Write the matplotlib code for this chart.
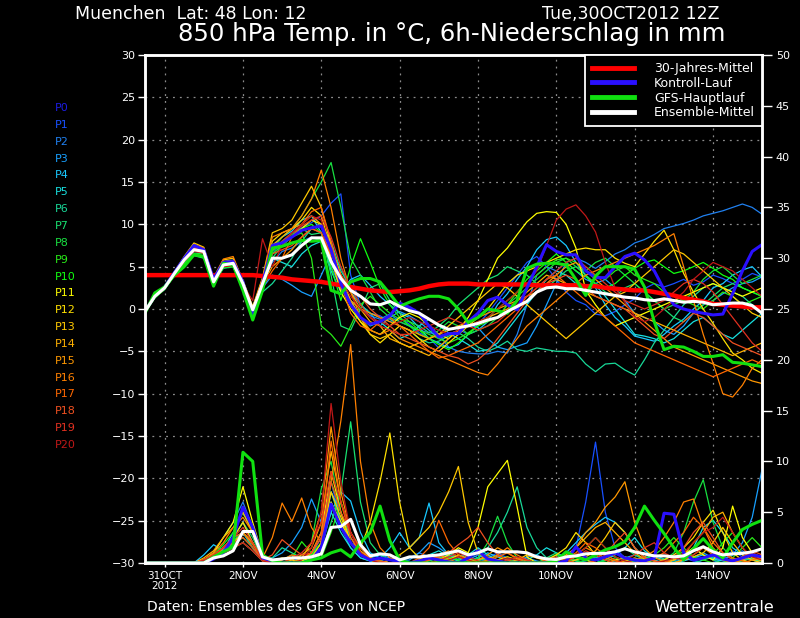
import matplotlib
matplotlib.use('Agg')
import matplotlib.pyplot as plt
from matplotlib.lines import Line2D

# forecast hours from Tue 30 OCT 2012 12Z, 6-hourly
hours = list(range(0, 379, 6))

x_ticks = [12, 60, 108, 156, 204, 252, 300, 348]
x_labels = ['31OCT\n2012', '2NOV', '4NOV', '6NOV', '8NOV', '10NOV', '12NOV', '14NOV']

# 850 hPa temperature (deg C)
t_clim = [4.0, 4.0, 4.0, 4.0, 4.0, 4.0, 4.0, 4.0, 4.0, 4.0, 4.0, 4.0, 3.9,
          3.8, 3.7, 3.5, 3.4, 3.3, 3.2, 3.0, 2.8, 2.6, 2.4, 2.2, 2.1, 2.0, 2.1,
          2.2, 2.4, 2.7, 2.9, 3.0, 3.0, 3.0, 2.9, 2.9, 2.9, 2.9, 2.9, 2.9,
          2.8, 2.8, 2.8, 2.8, 2.8, 2.7, 2.7, 2.5, 2.4, 2.3, 2.2, 2.2,
          2.0, 1.8, 1.6, 1.3, 1.1, 0.9, 0.6, 0.5, 0.4, 0.3, 0.2, 0.2]
t_ctl = [-0.3, 1.6, 2.6, 4.3, 6.0, 7.5, 7.0, 3.5, 5.5, 5.6, 3.2, -0.8, 3.0,
         7.5, 7.8, 8.5, 9.3, 9.6, 9.8, 7.0, 3.0, 0.5, -1.0, -1.8, -1.5, -0.8, 0.7,
         0.2, -0.5, -2.0, -3.3, -2.9, -2.9, -1.5, -0.5, 1.0, 1.4, 0.5, -0.1, 2.5,
         5.0, 7.6, 6.8, 6.4, 6.4, 4.5, 3.7, 3.7, 5.0, 6.2, 6.6, 5.8,
         4.5, 2.3, 0.5, 0.0, -0.3, -0.5, -0.7, -0.6, 1.8, 4.5, 6.8, 7.6]
t_gfs = [-0.5, 1.9, 2.6, 4.0, 5.0, 6.4, 6.2, 2.7, 5.4, 5.2, 2.2, -1.3, 2.2,
         7.2, 7.4, 7.8, 8.1, 8.0, 8.1, 2.2, 1.8, 3.2, 3.6, 3.6, 3.2, 1.8, 0.3,
         0.8, 1.2, 1.5, 1.5, 1.2, 0.0, -1.6, -1.0, 0.0, -0.2, -0.5, 1.0, 4.8,
         5.3, 5.4, 5.4, 5.2, 3.5, 1.6, 3.9, 5.0, 5.0, 5.0, 4.7, 2.6,
         -1.5, -4.8, -4.4, -4.5, -5.0, -5.6, -5.6, -5.4, -6.3, -6.4, -6.6, -6.8]
t_mean = [-0.3, 1.5, 2.5, 4.2, 5.8, 7.0, 6.8, 3.2, 5.2, 5.4, 3.0, -0.1, 3.0,
          6.0, 6.0, 6.4, 7.5, 8.4, 8.4, 5.6, 3.6, 2.2, 1.5, 0.6, 0.5, 0.9, 0.3,
          -0.2, -0.5, -1.2, -1.9, -2.4, -2.2, -2.0, -1.7, -1.3, -1.0, -0.3, 0.3, 0.9,
          2.0, 2.5, 2.6, 2.4, 2.4, 2.2, 2.0, 1.8, 1.6, 1.4, 1.3, 1.1,
          1.0, 1.2, 1.0, 0.8, 0.9, 0.8, 0.5, 0.6, 0.7, 0.7, 0.4, -0.5]

t01 = [-0.4, 1.4, 2.6, 4.4, 6.0, 7.6, 7.2, 3.4, 5.6, 5.8, 3.2, -0.5, 2.8,
       6.5, 8.0, 9.0, 9.6, 10.2, 11.0, 12.5, 13.6, 4.0, 0.5, -0.5, -0.8, -1.5, -1.0,
       -1.8, -2.8, -3.4, -4.6, -3.5, -2.4, -3.0, -1.8, -0.5, 1.0, 2.5, 4.0, 5.5,
       6.2, 5.0, 3.5, 2.0, 1.0, 0.5, -0.6, -0.8, -0.3, 0.5, 1.2, 2.4,
       3.0, 2.6, 3.0, 3.5, 2.8, 3.2, 4.0, 3.6, 3.0, 3.5, 4.2, 3.8]
t02 = [-0.2, 1.6, 2.4, 4.0, 5.6, 7.2, 6.9, 3.0, 5.4, 5.5, 2.9, -0.3, 3.2,
       5.5, 6.8, 7.2, 8.0, 8.5, 8.0, 5.0, 2.5, 1.0, 0.0, -0.8, -1.2, -0.6, -1.5,
       -2.0, -2.5, -2.8, -3.0, -4.5, -5.0, -5.2, -5.3, -5.3, -5.0, -5.2, -3.0, 0.5,
       4.0, 5.0, 4.5, 5.5, 6.0, 5.5, 4.8, 5.6, 6.5, 7.0, 7.8, 8.2,
       8.8, 9.5, 9.8, 10.1, 10.5, 11.0, 11.3, 11.6, 12.0, 12.4, 12.0, 11.2]
t03 = [-0.3, 1.5, 2.5, 4.3, 5.9, 7.3, 7.0, 3.6, 5.3, 5.0, 2.6, -0.8, 2.5,
       4.0, 3.5, 2.8, 2.0, 1.5, 4.0, 6.5, 5.0, 2.0, 0.5, -0.5, -2.0, -1.0, -0.3,
       -0.8, -1.5, -2.5, -3.5, -3.0, -2.5, -1.8, -2.2, -3.5, -4.5, -4.8, -4.4, -4.0,
       -2.0, 0.5, 3.0, 5.5, 4.5, 3.5, 3.0, 3.5, 2.5, 1.0, -0.5, -1.0,
       -1.5, -2.5, -3.0, -2.0, -0.5, 0.5, 1.0, 1.8, 2.5, 3.0, 3.2, 3.8]
t04 = [-0.3, 1.4, 2.3, 4.0, 5.5, 6.8, 6.7, 3.0, 5.0, 5.2, 2.8, -0.4, 3.4,
       7.5, 8.5, 9.2, 10.5, 11.0, 9.0, 4.5, 2.0, 3.5, 4.0, 2.8, 1.5, 0.5, -0.5,
       -1.0, -2.2, -3.5, -4.0, -4.6, -4.2, -3.0, -2.5, -1.5, 0.5, 1.8, 3.5, 5.0,
       7.0, 8.2, 8.5, 7.5, 5.5, 4.0, 2.5, 0.5, -1.0, -2.0, -3.2, -3.5,
       -3.8, -3.0, -2.0, -1.2, 0.0, 1.0, 2.5, 3.0, 4.0, 4.6, 5.0, 3.8]
t05 = [-0.2, 1.6, 2.6, 4.2, 5.7, 6.9, 6.6, 3.4, 5.1, 5.3, 3.1, 0.2, 3.5,
       6.0, 5.5, 5.0, 6.5, 7.5, 8.0, 5.5, 3.0, 1.0, -1.0, -2.0, -1.5, -2.5, -3.5,
       -3.0, -2.0, -1.2, -2.0, -2.8, -3.5, -4.2, -5.0, -4.8, -4.0, -2.5, -1.0, 0.5,
       2.0, 3.5, 4.5, 4.0, 3.0, 2.0, 2.8, 1.5, 0.0, -1.5, -3.0, -3.2,
       -3.5, -4.0, -3.5, -2.5, -1.5, -1.0, -2.0, -3.0, -3.5, -2.5, -1.5, -0.5]
t06 = [-0.4, 1.3, 2.4, 4.1, 5.6, 6.5, 6.2, 3.0, 4.8, 5.0, 2.5, -0.9, 2.0,
       3.0, 4.5, 6.0, 8.0, 9.5, 10.0, 8.0, 4.5, 2.5, 0.5, -0.5, -1.0, -1.2, -2.0,
       -2.5, -3.5, -4.0, -3.8, -3.2, -2.8, -3.5, -4.5, -5.0, -4.5, -3.8, -4.8, -5.0,
       -4.6, -4.8, -5.0, -5.0, -5.2, -6.5, -7.4, -6.5, -6.4, -7.2, -7.8, -6.0,
       -4.0, -2.5, -1.0, 0.5, 1.5, 2.5, 3.0, 2.5, 2.0, 1.5, 0.5, -0.5]
t07 = [-0.3, 1.5, 2.4, 4.0, 5.4, 6.3, 6.0, 2.8, 4.9, 5.1, 2.7, -0.6, 2.5,
       6.0, 7.5, 8.5, 9.5, 8.8, 9.0, 4.0, -2.0, -2.5, 0.0, 2.5, 3.0, 1.0, -0.5,
       -1.5, -2.0, -2.8, -2.0, -1.0, 0.5, 1.5, 2.5, 3.5, 4.0, 5.0, 4.5, 4.0,
       3.0, 2.5, 3.5, 4.5, 5.0, 4.0, 3.0, 2.0, 1.5, 2.5, 3.0, 2.0,
       1.0, 0.0, -1.0, -1.5, -0.5, 0.5, 1.5, 2.5, 3.0, 2.5, 2.0, 1.5]
t08 = [-0.4, 1.4, 2.5, 4.1, 5.5, 6.6, 6.5, 3.1, 5.0, 5.3, 2.9, -0.2, 3.1,
       7.0, 8.5, 9.5, 11.0, 13.0, 15.0, 17.3, 12.0, 6.0, 4.0, 2.0, 0.0, -1.0, -1.5,
       -2.0, -3.0, -3.5, -2.5, -1.5, -2.0, -3.0, -2.5, -2.0, -1.0, 0.5, 1.5, 2.5,
       3.5, 4.5, 5.5, 6.0, 5.0, 4.5, 5.5, 6.0, 5.0, 4.0, 3.0, 2.0,
       1.0, 0.0, 0.5, 1.0, 2.0, 3.5, 4.5, 5.0, 4.0, 3.0, 3.5, 4.0]
t09 = [-0.3, 1.6, 2.7, 4.4, 6.0, 7.2, 6.9, 3.3, 5.3, 5.5, 3.1, 0.0, 3.3,
       6.5, 7.5, 8.5, 9.0, 6.0, -2.0, -3.0, -4.4, -2.0, 0.5, 1.5, 0.5, -0.5, -1.2,
       -1.5, -2.5, -3.0, -3.5, -4.0, -3.5, -2.8, -2.0, -1.5, -1.0, 0.5, 2.0, 3.0,
       4.0, 5.0, 5.8, 6.0, 5.5, 4.5, 4.0, 3.5, 4.5, 5.0, 4.0, 3.5,
       3.0, 2.0, 1.5, 1.0, 0.5, 0.0, 1.0, 2.0, 1.5, 0.5, 1.0, 1.5]
t10 = [-0.5, 1.3, 2.3, 3.9, 5.3, 6.4, 6.3, 2.9, 4.9, 5.0, 2.6, -0.7, 2.7,
       6.8, 8.0, 8.8, 9.5, 10.0, 9.0, 5.0, 1.0, 5.0, 8.3, 5.5, 2.5, 0.5, -1.0,
       -2.0, -2.5, -3.5, -4.2, -4.8, -4.0, -3.0, -2.0, -1.0, 0.0, 1.0, 2.0, 3.5,
       4.5, 5.5, 6.5, 5.5, 4.5, 3.8, 3.0, 2.5, 3.0, 4.0, 4.8, 5.5,
       5.8, 5.0, 4.2, 4.5, 5.0, 5.5, 4.8, 4.0, 3.5, 2.5, 2.0, 1.5]
t11 = [-0.2, 1.7, 2.7, 4.3, 6.1, 7.5, 7.1, 3.5, 5.6, 5.7, 3.3, 0.1, 3.4,
       7.0, 7.8, 8.5, 9.5, 10.5, 10.0, 6.0, 2.0, 0.0, -1.5, -2.5, -3.0, -2.0, -1.0,
       -0.5, -1.0, -2.0, -3.0, -3.5, -2.5, -1.0, 1.0, 3.5, 6.0, 7.2, 8.8, 10.3,
       11.3, 11.5, 11.4, 10.0, 7.2, 2.2, 0.5, -1.0, -2.0, -1.5, -1.0, -0.5,
       0.0, 0.5, 1.0, 1.5, 2.0, 2.5, 3.0, 2.5, 2.0, 1.5, 2.0, 2.5]
t12 = [-0.3, 1.5, 2.6, 4.3, 5.9, 7.4, 7.0, 3.4, 5.5, 5.6, 3.1, -0.3, 3.0,
       8.0, 9.0, 9.5, 10.5, 12.0, 11.0, 7.0, 3.0, 0.5, -1.5, -3.0, -4.0, -3.0, -2.0,
       -2.5, -3.5, -4.5, -5.0, -4.0, -3.0, -2.0, -1.0, 0.0, 1.5, 3.0, 4.0, 4.5,
       5.0, 5.5, 6.0, 6.5, 7.0, 7.2, 7.0, 7.0, 6.0, 5.4, 5.0, 6.5,
       8.0, 9.3, 7.0, 4.2, 2.0, 0.0, -1.7, -3.5, -5.2, -6.0, -7.0, -7.6]
t13 = [-0.2, 1.6, 2.6, 4.4, 6.2, 7.8, 7.3, 3.6, 5.8, 6.0, 3.4, 0.3, 3.7,
       9.0, 9.5, 10.5, 12.5, 14.5, 12.0, 7.5, 4.0, 1.0, -1.0, -3.0, -3.5, -3.0, -4.0,
       -4.5, -4.0, -3.5, -3.0, -2.0, -1.0, 0.0, 1.0, 2.0, 3.0, 2.5, 1.5, 0.5,
       -0.5, -1.5, -2.5, -3.5, -2.5, -1.5, -0.5, 0.5, 1.5, 2.0, 3.0, 4.0,
       5.0, 6.0, 7.0, 6.5, 5.5, 4.5, 3.5, 2.5, 1.5, 0.5, -0.5, -1.0]
t14 = [-0.3, 1.5, 2.5, 4.2, 5.8, 7.1, 6.9, 3.2, 5.3, 5.4, 3.0, -0.1, 3.1,
       7.5, 8.5, 9.5, 10.0, 11.0, 10.0, 7.0, 4.0, 2.0, 0.0, -1.5, -2.0, -3.5, -4.0,
       -4.5, -5.0, -5.5, -4.5, -3.5, -2.5, -2.0, -1.5, -1.0, -0.5, 0.0, 1.0, 2.0,
       3.0, 4.0, 3.5, 3.0, 2.5, 2.0, 1.5, 1.0, 0.5, 0.0, -0.5, -1.0,
       -1.5, -2.0, -2.5, -3.0, -3.5, -4.0, -4.5, -5.0, -5.5, -5.0, -4.5, -4.0]
t15 = [-0.4, 1.4, 2.5, 4.2, 5.8, 7.0, 6.7, 3.1, 5.2, 5.4, 3.0, -0.2, 2.9,
       5.0, 6.0, 7.0, 8.5, 9.5, 9.0, 6.0, 2.5, 1.0, 0.0, -0.5, -1.0, -1.5, -2.0,
       -2.5, -3.0, -3.5, -3.0, -2.5, -2.0, -1.5, -1.0, -0.5, 0.0, 0.5, 1.0, 1.5,
       2.0, 3.0, 4.0, 5.0, 5.5, 4.5, 3.5, 2.5, 1.5, 0.5, -0.5, -1.5,
       -2.5, -3.5, -4.5, -5.0, -5.5, -6.0, -6.5, -7.0, -7.5, -8.0, -8.5, -8.8]
t16 = [-0.2, 1.6, 2.6, 4.3, 6.0, 7.6, 7.2, 3.7, 5.9, 6.2, 3.3, 0.0, 3.6,
       8.5, 9.0, 9.5, 11.0, 13.0, 16.4, 12.0, 6.0, 2.0, -1.0, -2.5, -3.0, -2.5, -3.5,
       -4.0, -4.5, -5.0, -5.5, -6.0, -6.5, -7.0, -7.5, -7.8, -6.5, -5.0, -3.5, -2.0,
       -1.0, 0.0, 1.0, 2.0, 3.0, 4.0, 4.5, 5.0, 5.5, 6.0, 6.5, 7.0,
       7.5, 8.2, 8.9, 5.0, 1.0, -3.0, -6.4, -10.0, -10.4, -9.0, -7.0, -6.0]
t17 = [-0.3, 1.5, 2.4, 4.1, 5.7, 6.9, 6.6, 3.0, 5.1, 5.2, 2.8, -0.5, 2.6,
       4.5, 6.0, 8.5, 10.0, 11.5, 12.0, 8.0, 3.0, -0.5, -2.0, -2.5, -1.5, -1.0, -2.0,
       -3.0, -4.0, -5.0, -5.8, -5.5, -5.0, -4.5, -4.0, -3.0, -2.0, -1.0, 0.0, 1.5,
       2.5, 3.5, 4.0, 3.0, 2.0, 1.0, 0.0, -1.0, -2.0, -3.0, -4.0, -4.5,
       -5.0, -5.5, -6.0, -6.5, -7.0, -7.5, -8.0, -7.5, -7.0, -6.5, -6.0, -6.5]
t18 = [-0.3, 1.6, 2.5, 4.2, 5.9, 7.2, 6.9, 3.3, 5.4, 5.6, 3.1, -0.2, 3.2,
       6.5, 7.0, 7.5, 8.5, 9.5, 9.0, 6.5, 4.0, 2.5, 1.5, 0.0, -1.0, -2.0, -3.0,
       -3.5, -4.0, -4.5, -5.0, -5.5, -5.8, -6.5, -6.0, -5.0, -3.5, -2.0, -0.5, 1.0,
       2.0, 3.0, 3.5, 4.0, 3.5, 2.5, 1.5, 1.0, 0.5, 0.0, -1.0, -2.0,
       -3.0, -3.5, -2.5, -1.5, -0.5, -1.0, -2.0, -3.0, -4.0, -4.5, -5.0, -5.5]
t19 = [-0.2, 1.5, 2.6, 4.3, 6.0, 7.3, 7.0, 3.4, 5.5, 5.7, 3.2, 0.1, 3.4,
       7.0, 8.0, 9.0, 9.8, 10.5, 11.0, 8.5, 5.0, 2.5, 0.5, -1.0, -2.0, -2.5, -3.0,
       -3.0, -2.5, -2.0, -1.5, -1.0, -1.5, -2.0, -2.5, -2.0, -1.5, -0.5, 0.5, 1.5,
       2.5, 3.5, 4.5, 5.5, 6.0, 5.0, 4.0, 3.0, 2.0, 1.0, 0.5, 0.0,
       0.5, 1.0, 2.0, 3.0, 3.5, 3.0, 2.0, 0.5, -1.0, -2.5, -4.0, -5.0]
t20 = [-0.3, 1.4, 2.4, 4.0, 5.6, 6.8, 6.6, 3.1, 5.0, 5.1, 2.8, 1.0, 8.3,
       5.0, 7.5, 9.0, 10.0, 11.0, 10.5, 7.0, 3.5, 1.5, 0.0, -1.0, -1.5, -2.0, -1.5,
       -1.0, -1.5, -2.0, -2.5, -3.0, -2.5, -2.0, -1.5, -1.0, 0.0, 1.0, 2.0, 3.0,
       4.5, 7.5, 10.5, 11.8, 12.3, 11.0, 9.1, 5.5, 2.5, 0.8, -0.9, -1.5,
       -1.0, 0.0, 1.0, 2.0, 3.5, 4.5, 5.5, 5.0, 4.5, 3.5, 2.5, 1.5]

# 6h precipitation (mm)
r_ctl = [0, 0, 0, 0, 0, 0, 0, 0.4, 1.0, 2.5, 5.5, 3.5, 0.5,
         0.2, 0, 0, 0, 0.3, 1.5, 5.8, 3.5, 2.0, 0.8, 0.3, 0.5, 0.3, 0.2,
         0, 0.2, 0.5, 0.3, 0.1, 0, 0.5, 1.2, 0.4, 0.2, 0, 0, 0,
         0, 0, 0, 0.2, 1.6, 0.5, 0.3, 0.6, 1.0, 0.5, 0.3, 0.2,
         0.5, 4.9, 4.8, 1.0, 0.3, 0.5, 0.8, 0.4, 0.2, 0.5, 0.8, 0.6]
r_gfs = [0, 0, 0, 0, 0, 0, 0, 0.6, 1.1, 1.6, 10.9, 10.0, 0.8,
         0.2, 0, 0, 0, 0.3, 0.5, 1.0, 1.3, 0.6, 2.0, 3.0, 5.6, 2.2, 0.3,
         0, 0, 0, 0, 0, 0, 0, 0, 0, 0, 0, 0, 0,
         0, 0, 0.2, 1.1, 0.6, 0.3, 0.8, 1.3, 1.6, 2.1, 3.5, 5.6,
         4.2, 2.9, 1.5, 0.3, 1.4, 2.4, 1.3, 0.5, 2.0, 3.3, 3.8, 4.2]
r_mean = [0, 0, 0, 0, 0, 0, 0, 0.5, 0.7, 1.2, 3.1, 3.1, 0.6,
          0.3, 0.4, 0.5, 0.5, 0.6, 0.9, 3.5, 3.6, 4.3, 1.8, 0.7, 0.9, 0.8, 0.3,
          0.6, 0.6, 0.7, 0.8, 1.0, 1.2, 0.8, 1.0, 1.4, 1.1, 1.1, 1.1, 1.0,
          0.6, 0.4, 0.35, 0.6, 0.7, 0.9, 0.95, 0.95, 1.1, 1.4, 1.1, 0.9,
          0.7, 0.7, 0.6, 0.7, 1.2, 1.6, 1.1, 0.8, 0.9, 0.95, 1.1, 1.4]

r01 = [0, 0, 0, 0, 0, 0, 0.3, 0.8, 1.5, 2.5, 4.0, 2.0, 0.3,
       0, 0, 0.2, 0.5, 1.0, 3.0, 8.0, 4.0, 2.0, 1.0, 0.5, 0.3, 0, 0,
       0, 0, 0.3, 0.8, 0.5, 0.2, 0, 0, 0.5, 1.0, 0.5, 0, 0,
       0, 0, 0, 0.2, 1.5, 6.0, 11.9, 5.0, 1.5, 0.5, 0.2, 0,
       0, 0.3, 0.8, 0.5, 0.2, 0, 0, 0.5, 1.2, 0.6, 0.3, 0]
r02 = [0, 0, 0, 0, 0, 0, 0.2, 1.0, 2.5, 4.0, 6.0, 3.5, 0.5,
       0.2, 0, 0, 0.3, 0.8, 2.5, 6.0, 3.5, 1.5, 0.5, 0.2, 0, 0, 0.2,
       0.5, 1.0, 0.6, 0.2, 0, 0, 0.3, 0.8, 0.4, 0, 0, 0.2, 0.6,
       0.8, 0.3, 0, 0, 0, 0.2, 0.5, 1.0, 0.6, 0.2, 0, 0,
       0, 0, 0.2, 0.5, 0.3, 0, 0, 0.4, 0.8, 1.2, 0.6, 0.3]
r03 = [0, 0, 0, 0, 0, 0, 0, 0.5, 1.5, 2.5, 3.0, 1.5, 0.3,
       0.5, 1.0, 2.0, 3.5, 6.3, 4.0, 7.0, 5.0, 2.5, 1.0, 0.5, 0.8, 0.5, 0.2,
       0.3, 1.0, 2.0, 1.5, 0.8, 0.5, 1.0, 0.5, 0.2, 0, 0, 0.3, 0.5,
       0.2, 0, 0, 0, 0.3, 0.6, 0.3, 0, 0.2, 0.5, 0.8, 0.4,
       0.2, 0, 0, 0.3, 0.6, 1.0, 0.5, 0.3, 0.8, 2.0, 4.5, 9.2]
r04 = [0, 0, 0, 0, 0, 0, 0.8, 1.8, 1.2, 3.0, 5.0, 3.0, 0.6,
       0.3, 0, 0, 0, 0.5, 2.0, 5.0, 7.0, 6.1, 3.0, 1.0, 0.5, 1.5, 3.0,
       1.5, 2.5, 5.9, 2.0, 0.8, 0.3, 0.2, 0.5, 1.0, 0.6, 0.3, 0, 0,
       0, 0.2, 0.5, 1.0, 2.0, 3.0, 3.8, 4.5, 4.0, 3.0, 1.5, 0.6,
       0.3, 0, 0, 0.2, 0.5, 0.8, 0.4, 0.2, 0, 0.3, 0.5, 0.3]
r05 = [0, 0, 0, 0, 0, 0, 0.2, 0.6, 1.0, 1.5, 2.0, 1.2, 0.2,
       0, 0, 0, 0.2, 0.5, 1.5, 5.0, 3.0, 1.5, 0.5, 0.2, 0, 0, 0,
       0, 0.3, 0.8, 1.2, 0.6, 0.2, 0.8, 1.5, 0.8, 0.3, 0, 0, 0.3,
       0.8, 1.5, 1.0, 0.5, 0.2, 0, 0, 0.3, 0.8, 1.5, 2.5, 1.2,
       0.6, 0.3, 0, 0.5, 1.5, 3.5, 4.2, 3.0, 1.5, 0.8, 0.3, 0.2]
r06 = [0, 0, 0, 0, 0, 0, 0.3, 0.8, 1.5, 2.2, 3.0, 1.5, 0.4,
       0.5, 1.5, 1.0, 0.5, 0.8, 2.0, 7.0, 4.0, 2.0, 1.0, 0.5, 0.2, 0, 0,
       0, 0, 0.2, 0.5, 1.0, 0.5, 0.2, 0.5, 1.5, 3.0, 5.0, 7.5, 3.5,
       1.5, 0.5, 0.2, 0, 0, 0.3, 0.6, 0.3, 0, 0, 0.2, 0.5,
       0.8, 0.4, 0.2, 0, 0, 0.3, 0.6, 0.3, 0, 0.2, 0.5, 0.3]
r07 = [0, 0, 0, 0, 0, 0, 0.2, 0.6, 1.2, 2.5, 4.0, 2.5, 0.3,
       0, 0.3, 0.8, 0.4, 0.2, 1.0, 4.0, 7.0, 13.9, 6.0, 2.0, 0.8, 0.3, 0,
       0, 0, 0.3, 0.6, 0.3, 0, 0, 0.2, 0.5, 0.3, 0, 0, 0,
       0, 0.5, 1.0, 0.5, 0.2, 0, 0, 0.3, 1.0, 1.5, 0.8, 0.3,
       0, 0, 0.3, 0.8, 1.5, 0.8, 0.3, 0, 0.2, 0.6, 0.3, 0]
r08 = [0, 0, 0, 0, 0, 0, 0, 0.4, 1.0, 1.8, 2.5, 1.5, 0.3,
       0, 0, 0, 0.5, 2.0, 7.3, 10.0, 5.0, 2.0, 0.8, 0.3, 0, 0, 0,
       0, 0, 0, 0.2, 0.5, 0.3, 0, 0.5, 2.0, 4.6, 2.0, 0.5, 0,
       0, 0, 0.2, 0.5, 0.3, 0, 0, 0.2, 0.5, 0.3, 0, 0,
       0, 0.3, 1.0, 3.0, 6.0, 8.2, 4.0, 1.5, 0.5, 0.2, 0, 0]
r09 = [0, 0, 0, 0, 0, 0, 0.2, 0.5, 1.0, 2.0, 3.0, 2.0, 0.3,
       0, 0, 0.5, 2.1, 1.0, 0.5, 3.0, 6.0, 3.0, 1.5, 0.5, 0.2, 0, 0,
       0, 0, 0, 0, 0.3, 0.8, 0.4, 0, 0, 0.3, 0.6, 0.3, 0,
       0, 0, 0, 0.3, 0.8, 1.5, 2.5, 1.5, 0.6, 0.2, 0, 0.3,
       0.8, 1.5, 2.5, 1.5, 0.6, 0.3, 0, 0, 0.5, 1.5, 2.5, 1.5]
r10 = [0, 0, 0, 0, 0, 0, 0.3, 0.8, 1.8, 3.0, 5.0, 3.0, 0.5,
       0, 0, 0, 0.3, 0.8, 2.0, 8.0, 5.0, 2.0, 0.8, 0.3, 0, 0, 0,
       0, 0, 0, 0.3, 0.6, 0.3, 0, 0, 0.3, 0.8, 0.4, 0, 0,
       0, 0.3, 0.8, 0.4, 0, 0, 0.3, 0.6, 1.0, 0.6, 0.3, 0,
       0, 0, 0.5, 1.2, 0.6, 0.3, 0.8, 2.0, 3.0, 1.5, 0.5, 0.2]
r11 = [0, 0, 0, 0, 0, 0, 0.3, 1.0, 2.5, 4.0, 7.5, 4.0, 0.8,
       0.3, 0, 0, 0.2, 0.5, 1.5, 6.0, 4.0, 2.0, 0.8, 0.3, 0, 0, 0,
       0, 0, 0, 0.3, 0.8, 1.5, 1.0, 3.5, 7.5, 8.8, 10.1, 5.5, 0.6,
       0, 0, 0, 0.2, 0.6, 0.3, 0, 0, 0.3, 0.6, 0.3, 0,
       0, 0, 0.3, 0.8, 1.5, 0.8, 0.3, 1.5, 5.6, 2.5, 1.0, 0.5]
r12 = [0, 0, 0, 0, 0, 0, 0.2, 0.5, 1.5, 2.5, 4.0, 2.0, 0.3,
       0, 0, 0, 0.3, 1.0, 3.0, 9.0, 5.0, 2.0, 1.5, 4.0, 8.0, 12.8, 6.0,
       1.5, 0.5, 0, 0, 0.3, 0.8, 0.4, 0, 0, 0.3, 0.6, 0.3, 0,
       0, 0.3, 0.8, 1.5, 3.0, 2.0, 0.8, 0.3, 0, 0.2, 0.5, 0.2,
       0, 0.3, 0.8, 1.5, 2.5, 4.0, 5.2, 3.0, 1.0, 0.3, 0, 0]
r13 = [0, 0, 0, 0, 0, 0, 0.3, 0.8, 1.5, 2.0, 3.0, 2.0, 0.4,
       0.2, 0.5, 0.3, 0, 0.5, 2.0, 7.0, 4.5, 2.0, 0.8, 0.3, 0, 0.3, 0.8,
       1.5, 2.5, 3.5, 5.0, 7.0, 9.5, 4.0, 1.0, 0.3, 0, 0, 0.3, 0.8,
       0.5, 0.2, 0, 0, 0.3, 0.6, 1.2, 2.5, 4.0, 3.0, 1.5, 0.5,
       0.2, 0, 0, 0.3, 0.6, 1.0, 2.0, 3.5, 2.0, 0.8, 0.3, 0]
r14 = [0, 0, 0, 0, 0, 0, 0.5, 1.2, 2.5, 3.5, 5.0, 3.0, 0.5,
       0, 0, 0.3, 0.8, 1.5, 4.0, 11.0, 6.0, 3.0, 1.0, 0.5, 0.2, 0, 0,
       0, 0.3, 0.8, 0.5, 0.2, 0, 0, 0.3, 0.6, 0.3, 0, 0, 0,
       0, 0, 0.3, 0.8, 1.5, 2.5, 3.5, 4.0, 3.0, 2.0, 1.0, 0.4,
       0.2, 0, 0.3, 0.8, 2.0, 3.0, 4.5, 5.0, 3.0, 1.5, 0.5, 0.2]
r15 = [0, 0, 0, 0, 0, 0, 0, 0.4, 1.0, 1.5, 2.0, 1.2, 0.2,
       0, 0, 0, 0.5, 2.0, 5.0, 13.4, 7.0, 3.0, 1.2, 0.5, 0, 0, 0,
       0, 0, 0.3, 0.8, 0.4, 0, 0, 0.3, 0.8, 1.5, 1.0, 0.4, 0,
       0, 0, 0.2, 0.6, 1.5, 3.0, 4.0, 5.5, 6.5, 8.0, 4.0, 1.5,
       0.5, 0.2, 0, 0.3, 0.8, 1.5, 0.8, 0.3, 0, 0.3, 0.8, 0.4]
r16 = [0, 0, 0, 0, 0, 0, 0.3, 1.0, 2.0, 3.5, 4.5, 3.0, 0.5,
       2.5, 5.9, 4.1, 6.4, 3.5, 2.0, 8.0, 14.0, 21.5, 10.0, 4.0, 1.5, 0.5, 0.2,
       0, 0, 0.3, 0.8, 1.2, 0.6, 0.2, 0, 0.3, 0.8, 1.5, 0.8, 0.3,
       0, 0, 0, 0.3, 0.8, 1.5, 1.0, 0.5, 0.2, 0, 0.3, 0.6,
       1.2, 2.5, 4.0, 6.0, 6.3, 3.5, 1.5, 0.5, 0.2, 0, 0.3, 0.5]
r17 = [0, 0, 0, 0, 0, 0, 0.2, 0.6, 1.5, 2.5, 3.0, 1.8, 0.3,
       0, 0.3, 0.8, 0.5, 1.0, 3.0, 12.0, 6.0, 2.5, 1.0, 0.4, 0, 0, 0,
       0, 0.5, 1.5, 4.2, 2.0, 0.8, 0.3, 0, 0.2, 0.6, 1.0, 0.5, 0.2,
       0, 0, 0.2, 0.5, 1.0, 2.0, 1.5, 0.8, 0.3, 0, 0, 0.2,
       0.5, 1.0, 2.0, 3.0, 4.5, 3.5, 2.0, 1.0, 0.5, 0.2, 0, 0]
r18 = [0, 0, 0, 0, 0, 0, 0.3, 0.8, 1.5, 2.0, 2.5, 1.5, 0.3,
       0.8, 2.3, 1.5, 0.8, 1.0, 2.5, 8.0, 5.0, 3.0, 1.5, 0.5, 0.2, 0, 0,
       0, 0, 0.3, 0.6, 1.0, 1.8, 2.5, 3.5, 2.0, 0.8, 0.3, 0, 0,
       0, 0.3, 0.6, 0.3, 0, 0, 0.2, 0.8, 2.0, 3.0, 1.5, 0.5,
       0.2, 0, 0.5, 1.5, 3.0, 4.0, 2.5, 1.0, 0.3, 0.6, 1.2, 0.8]
r19 = [0, 0, 0, 0, 0, 0, 0.3, 0.8, 1.5, 2.5, 3.5, 2.0, 0.4,
       0, 0, 0.5, 1.0, 2.0, 4.0, 9.0, 6.0, 3.0, 1.0, 0.3, 0, 0, 0,
       0, 0, 0, 0.3, 0.6, 1.0, 0.6, 0.2, 0, 0, 0.3, 0.6, 0.3,
       0, 0, 0, 0.2, 0.6, 1.2, 0.8, 0.3, 0, 0.3, 0.8, 1.5,
       2.0, 1.0, 0.5, 0.3, 0.8, 1.5, 1.0, 0.5, 0.2, 0.5, 1.0, 0.6]
r20 = [0, 0, 0, 0, 0, 0, 0.2, 0.5, 1.0, 1.5, 2.0, 1.2, 0.2,
       0, 0, 0, 0.3, 1.5, 5.0, 15.7, 8.0, 3.0, 1.0, 0.3, 0, 0, 0,
       0, 0, 0, 0, 0.3, 0.6, 0.3, 0, 0, 0.2, 0.5, 0.3, 0,
       0, 0, 0, 0.3, 0.8, 1.5, 2.5, 1.5, 0.6, 0.2, 0, 0,
       0, 0.2, 0.5, 1.0, 2.0, 3.0, 3.5, 4.5, 3.0, 1.5, 0.6, 0.3]

member_names = ['P%d' % i for i in range(21)]
member_colors = ['#1c1ce0', '#1850ff', '#2080f0', '#18a0ff', '#18c8ff', '#18e0e0', '#18d898',
                 '#18e070', '#18e040', '#28ea18', '#10ff10', '#ffff00', '#ffe000', '#ffc800',
                 '#ffb000', '#ff9800', '#ff8000', '#ff6800', '#f05020', '#e03020', '#c01818']
temp_members = [t01, t02, t03, t04, t05, t06, t07, t08, t09, t10,
                t11, t12, t13, t14, t15, t16, t17, t18, t19, t20]
rain_members = [r01, r02, r03, r04, r05, r06, r07, r08, r09, r10,
                r11, r12, r13, r14, r15, r16, r17, r18, r19, r20]

fig = plt.figure(figsize=(8, 6.18), dpi=100, facecolor='black')
ax = fig.add_axes([145 / 800, 1 - 563 / 618, 617 / 800, 508 / 618])
ax.set_facecolor('black')
ax2 = ax.twinx()

for temps, col in zip(temp_members, member_colors[1:]):
    ax.plot(hours, temps, color=col, lw=0.9)
ax.plot(hours, t_clim, color='#ff0000', lw=3.2)
ax.plot(hours, t_ctl, color='#2a10ff', lw=2.2)
ax.plot(hours, t_gfs, color='#10e010', lw=2.2)
ax.plot(hours, t_mean, color='white', lw=2.2)

for rain, col in zip(rain_members, member_colors[1:]):
    ax2.plot(hours, rain, color=col, lw=0.9)
ax2.plot(hours, r_ctl, color='#2a10ff', lw=2.2)
ax2.plot(hours, r_gfs, color='#10e010', lw=2.2)
ax2.plot(hours, r_mean, color='white', lw=2.2)

ax.set_xlim(0, 378)
ax.set_ylim(-30, 30)
ax2.set_ylim(0, 50)
ax.set_yticks(range(-30, 31, 5))
ax2.set_yticks(range(0, 51, 5))
ax.set_xticks(x_ticks)
ax.set_xticklabels(x_labels, linespacing=1.0)
ax.grid(True, color='#8c8c8c', linestyle=(0, (1.5, 4)), linewidth=0.9)

for a in (ax, ax2):
    for s in a.spines.values():
        s.set_color('white')
        s.set_linewidth(1.8)
ax.tick_params(axis='y', colors='white', labelsize=8, length=5, width=1, pad=2)
ax.tick_params(axis='x', colors='white', labelsize=7.5, length=3, width=1, pad=3)
ax2.tick_params(axis='y', colors='white', labelsize=8, length=7, width=1, pad=3)

handles = [Line2D([], [], color='#ff0000', lw=3.5),
           Line2D([], [], color='#2a10ff', lw=3.5),
           Line2D([], [], color='#10e010', lw=3.5),
           Line2D([], [], color='white', lw=3.5)]
labels = ['30-Jahres-Mittel', 'Kontroll-Lauf', 'GFS-Hauptlauf', 'Ensemble-Mittel']
leg = ax2.legend(handles, labels, loc='upper right', bbox_to_anchor=(1, 1), borderaxespad=0,
                 fancybox=False, framealpha=1, facecolor='black', edgecolor='white',
                 labelcolor='white', fontsize=9, handlelength=3.4, handletextpad=1.6,
                 borderpad=0.55, labelspacing=0.15)
leg.get_frame().set_linewidth(1.3)

for i, (name, col) in enumerate(zip(member_names, member_colors)):
    fig.text(55 / 800, 1 - (108 + i * 16.85) / 618, name, color=col, fontsize=8, va='center')

fig.text(75 / 800, 1 - 14 / 618, 'Muenchen  Lat: 48 Lon: 12', color='white', fontsize=12.5, va='center')
fig.text(720 / 800, 1 - 14 / 618, 'Tue,30OCT2012 12Z', color='white', fontsize=12.5, va='center', ha='right')
fig.text(178 / 800, 1 - 34 / 618, '850 hPa Temp. in °C, 6h-Niederschlag in mm', color='white',
         fontsize=17.6, va='center')
fig.text(147 / 800, 1 - 607 / 618, 'Daten: Ensembles des GFS von NCEP', color='white', fontsize=10, va='center')
fig.text(774 / 800, 1 - 607 / 618, 'Wetterzentrale', color='white', fontsize=11.5, va='center', ha='right')

fig.savefig('out.png', dpi=100, facecolor='black')
